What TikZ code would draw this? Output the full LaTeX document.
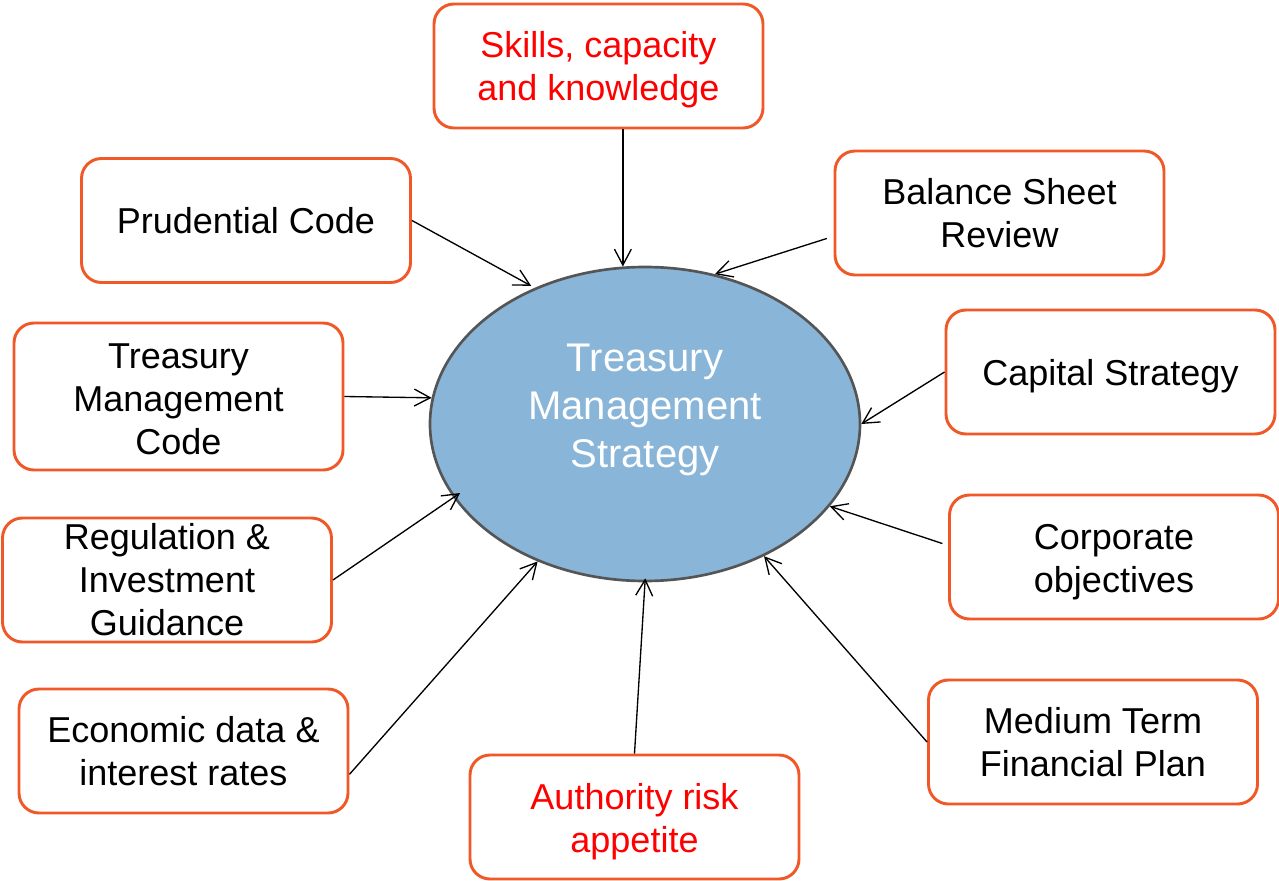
\documentclass[tikz,border=0pt]{standalone}
\usepackage{fontspec}
\setmainfont{Liberation Sans}
\usetikzlibrary{arrows.meta,shapes.geometric}
\definecolor{boxline}{RGB}{240,88,40}
\definecolor{hubfill}{RGB}{137,181,217}
\definecolor{hubline}{RGB}{85,85,85}
\definecolor{hotred}{RGB}{255,0,0}
\begin{document}
\begin{tikzpicture}[x=0.75pt,y=-0.75pt,
  infobox/.style={draw=boxline,line width=2.2pt,rounded corners=15pt,fill=white,
    minimum width=246.75pt,minimum height=93pt,inner sep=0pt,align=center,
    font={\fontsize{27pt}{32.25pt}\selectfont}},
  % a taller text box pushes the lines a little lower in their frame
  lowtext/.style={text height=#1},
  hub/.style={ellipse,draw=hubline,line width=2pt,fill=hubfill,text=white,
    minimum width=322.5pt,minimum height=235.5pt,inner sep=0pt,align=center,
    font={\fontsize{30pt}{36pt}\selectfont},
    execute at end node={\rule[-27.3pt]{0pt}{0pt}}},
  feed/.style={draw=black,line width=1pt,-{Straight Barb[length=12pt,width=12.7pt]}}]
\useasboundingbox (0,0) rectangle (1279,881);

% central strategy
\node[hub] (tms) at (645,424) {Treasury\\Management\\Strategy};

% inputs around the strategy
\node[infobox,lowtext=57.95pt,text=hotred] (skills) at (598.5,66) {Skills, capacity\\and knowledge};
\node[infobox] (prud) at (246,220.5) {Prudential Code};
\node[infobox] (bsr) at (999.5,213) {Balance Sheet\\Review};
\node[infobox,minimum height=110.25pt,lowtext=86.8pt] (tmc) at (178.5,396.5) {Treasury\\Management\\Code};
\node[infobox,lowtext=25.4pt] (cap) at (1110.5,372) {Capital Strategy};
\node[infobox] (reg) at (167,580) {Regulation \&\\Investment\\Guidance};
\node[infobox,lowtext=59.35pt] (corp) at (1114,557) {Corporate\\objectives};
\node[infobox] (econ) at (183.5,751) {Economic data \&\\interest rates};
\node[infobox] (mtfp) at (1093,742) {Medium Term\\Financial Plan};
\node[infobox,lowtext=59.45pt,text=hotred] (risk) at (634.5,817) {Authority risk\\appetite};

% connectors into the strategy
\draw[feed] (tms.98 |- skills.south) -- (tms.98);
\draw[feed,shorten >=3pt] (prud.east) -- (tms.129.9);
\draw[feed,shorten <=5.25pt] (bsr.188.6) -- (tms.65.3);
\draw[feed] (tmc.east) -- (tms.173.3);
\draw[feed] (cap.west) -- (tms.0);
\draw[feed,shorten >=-6pt] (reg.east) -- (tms.201.7);
\draw[feed,shorten <=4.5pt] (corp.176) -- (tms.336.8);
\draw[feed] (econ.-8.3) -- (tms.232.7);
\draw[feed] (mtfp.west) -- (tms.-48.2);
\draw[feed,shorten >=-3pt] (risk.north) -- (tms.270);
\end{tikzpicture}
\end{document}
